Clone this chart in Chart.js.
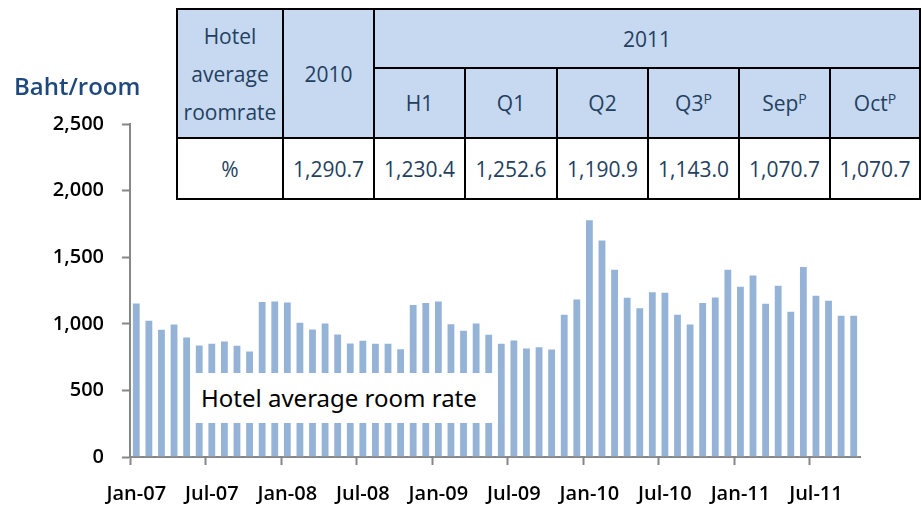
<!DOCTYPE html>
<html>
<head>
<meta charset="utf-8">
<script src="https://cdn.jsdelivr.net/npm/chart.js@4/dist/chart.umd.min.js"></script>
<style>
    html, body { margin: 0; padding: 0; background: #fff; }
    #wrap { position: relative; width: 922px; height: 506px; overflow: hidden; }
    #chart { position: absolute; left: 0; top: 0; }
    #unit { position: absolute; left: 14px; top: 69px; font: 600 24px "Open Sans", sans-serif; color: #1f497d; }
    #note { position: absolute; left: 193px; top: 373px; width: 305px; height: 50px; background: #fff;
            font: 24px "Noto Sans", sans-serif; color: #000; line-height: 50px; padding-left: 8px; box-sizing: border-box; }
    #tbl { position: absolute; left: 176px; top: 8px; border-collapse: collapse; background: #fff;
           font: 21px "Open Sans", sans-serif; color: #243f60; }
    #tbl td { border: 2.5px solid #000; text-align: center; padding: 0; }
    #tbl .hd { background: #c6d9f1; }
</style>
</head>
<body>
<div id="wrap">
    <canvas id="chart" width="922" height="506"></canvas>
    <div id="unit">Baht/room</div>
    <div id="note">Hotel average room rate</div>
    <table id="tbl"></table>
</div>
<script>
// Monthly hotel average room rate, Jan-07 .. Oct-11 (Baht/room)
const years = ['07', '08', '09', '10', '11'];
const monthNames = ['Jan', 'Feb', 'Mar', 'Apr', 'May', 'Jun', 'Jul', 'Aug', 'Sep', 'Oct', 'Nov', 'Dec'];
const lastMonthCount = 10;

const roomRate = [
    1160, 1030, 962, 1002, 905, 845, 857, 875, 842, 800, 1171, 1175,
    1168, 1015, 965, 1010, 927, 860, 880, 857, 857, 817, 1148, 1163,
    1175, 1005, 955, 1010, 925, 857, 882, 822, 832, 815, 1075, 1190,
    1785, 1632, 1414, 1203, 1125, 1245, 1240, 1075, 1002, 1163, 1205, 1414,
    1286, 1371, 1158, 1293, 1098, 1434, 1218, 1180, 1068, 1068
];

const yTicks = [0, 500, 1000, 1500, 2000, 2500];

// Summary table
const tableTitle = ['Hotel', 'average', 'roomrate'];
const tableYearA = '2010';
const tableYearB = '2011';
const tablePeriods = ['H1', 'Q1', 'Q2', 'Q3<sup>P</sup>', 'Sep<sup>P</sup>', 'Oct<sup>P</sup>'];
const tableRowLabel = '%';
const tableValues = ['1,290.7', '1,230.4', '1,252.6', '1,190.9', '1,143.0', '1,070.7', '1,070.7'];

const labels = [];
years.forEach((y, yi) => {
    const n = yi === years.length - 1 ? lastMonthCount : 12;
    for (let m = 0; m < n; m++) labels.push(monthNames[m] + '-' + y);
});

function buildTable() {
    const colW = [106, 91, 91, 92, 91, 91, 91, 90];
    const t = document.getElementById('tbl');
    let html = '<colgroup>' + colW.map(w => `<col style="width:${w}px">`).join('') + '</colgroup>';
    html += `<tr style="height:59px"><td class="hd" rowspan="2" style="line-height:38px">${tableTitle.join('<br>')}</td>`;
    html += `<td class="hd" rowspan="2">${tableYearA}</td>`;
    html += `<td class="hd" colspan="${tablePeriods.length}">${tableYearB}</td></tr>`;
    html += '<tr style="height:70px">' + tablePeriods.map(p => `<td class="hd">${p}</td>`).join('') + '</tr>';
    html += `<tr style="height:61px"><td>${tableRowLabel}</td>` + tableValues.map(v => `<td>${v}</td>`).join('') + '</tr>';
    t.innerHTML = html;
    t.querySelectorAll('sup').forEach(s => { s.style.fontSize = '14px'; s.style.verticalAlign = '7px'; });
}

function renderChart() {
    const ctx = document.getElementById('chart').getContext('2d');
    const tickFont = { family: 'Open Sans', size: 20, weight: '600' };
    new Chart(ctx, {
        type: 'bar',
        data: {
            labels: labels,
            datasets: [{
                data: roomRate,
                backgroundColor: '#95b3d7',
                borderColor: 'rgba(255,255,255,0.55)',
                borderWidth: 1,
                barPercentage: 1,
                categoryPercentage: 0.7
            }]
        },
        options: {
            responsive: false,
            animation: false,
            layout: { padding: { top: 124, right: 62, left: 0, bottom: 0 } },
            plugins: { legend: { display: false }, tooltip: { enabled: false } },
            scales: {
                x: {
                    afterFit: scale => { scale.height = 49; },
                    border: { color: '#868686', width: 2 },
                    grid: {
                        offset: true,
                        drawOnChartArea: false,
                        tickLength: 8,
                        tickWidth: 2,
                        tickColor: c => (c.index % 6 === 0 ? '#868686' : 'rgba(0,0,0,0)')
                    },
                    ticks: {
                        autoSkip: false,
                        maxRotation: 0,
                        padding: 17,
                        color: '#000',
                        font: tickFont,
                        callback: (v, i) => (i % 6 === 0 ? labels[i] : '')
                    }
                },
                y: {
                    min: 0,
                    max: 2500,
                    afterFit: scale => { scale.width = 130; },
                    afterBuildTicks: scale => { scale.ticks = yTicks.map(v => ({ value: v })); },
                    border: { color: '#868686', width: 2 },
                    grid: {
                        drawOnChartArea: false,
                        tickLength: 8,
                        tickWidth: 2,
                        tickColor: '#868686'
                    },
                    ticks: {
                        padding: 18,
                        color: '#000',
                        font: tickFont,
                        callback: v => v.toLocaleString('en-US')
                    }
                }
            }
        }
    });
}

buildTable();
renderChart();
</script>
</body>
</html>
